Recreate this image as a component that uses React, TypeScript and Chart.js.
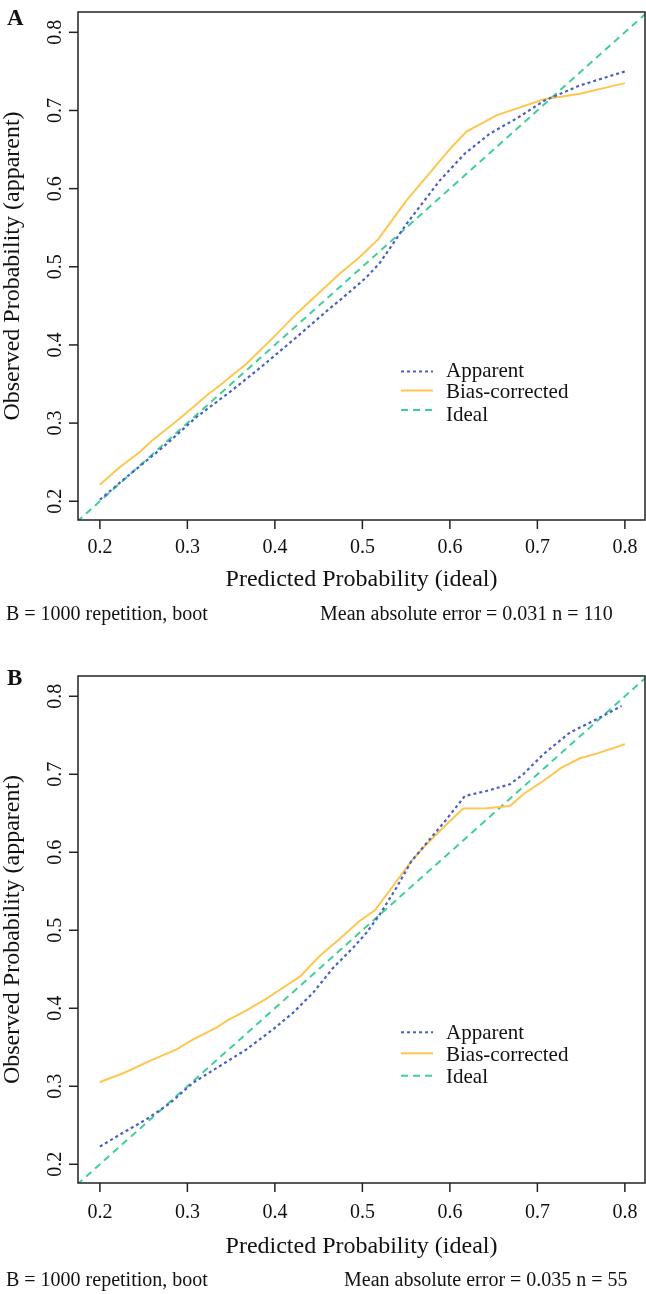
import React, { useEffect, useRef } from 'react';
import { Chart, registerables } from 'chart.js';

Chart.register(...registerables);

// ---------- data ----------
const TICKS = [0.2, 0.3, 0.4, 0.5, 0.6, 0.7, 0.8];
const TICK_LABELS = ['0.2', '0.3', '0.4', '0.5', '0.6', '0.7', '0.8'];
const X_MIN = 0.175;
const X_MAX = 0.823;
const Y_MIN = 0.176;
const Y_MAX = 0.826;

const IDEAL_X = [0, 1];
const IDEAL_Y = [0, 1];

const SERIES_NAMES = ['Apparent', 'Bias-corrected', 'Ideal'];

// Panel A
const A_APP_X = [0.2, 0.2305, 0.2724, 0.3105, 0.3486, 0.3867, 0.4248, 0.463, 0.474, 0.497, 0.505, 0.52, 0.5505, 0.5886, 0.6171, 0.6457, 0.676, 0.7086, 0.7486, 0.8];
const A_APP_Y = [0.202, 0.231, 0.2695, 0.3078, 0.3398, 0.374, 0.41, 0.447, 0.457, 0.479, 0.487, 0.505, 0.555, 0.6106, 0.6448, 0.6704, 0.6896, 0.713, 0.732, 0.75];
const A_BC_X = [0.2, 0.2229, 0.2457, 0.259, 0.2914, 0.3238, 0.337, 0.3676, 0.398, 0.4248, 0.4514, 0.4743, 0.4952, 0.518, 0.5505, 0.6019, 0.619, 0.6533, 0.7067, 0.7486, 0.8];
const A_BC_Y = [0.221, 0.2439, 0.263, 0.277, 0.3058, 0.3369, 0.348, 0.376, 0.4094, 0.44, 0.4678, 0.4913, 0.5105, 0.535, 0.585, 0.653, 0.673, 0.6938, 0.714, 0.7215, 0.735];

// Panel B
const B_APP_X = [0.2, 0.2267, 0.2533, 0.28, 0.3067, 0.3371, 0.3676, 0.398, 0.421, 0.4438, 0.4667, 0.4895, 0.5048, 0.52, 0.539, 0.5562, 0.5771, 0.5962, 0.6171, 0.6419, 0.6686, 0.6838, 0.7067, 0.7371, 0.7676, 0.7962];
const B_APP_Y = [0.2227, 0.2406, 0.2577, 0.2782, 0.3047, 0.326, 0.3474, 0.373, 0.3945, 0.4201, 0.452, 0.4778, 0.497, 0.5205, 0.5547, 0.5889, 0.6167, 0.6423, 0.6722, 0.6786, 0.6872, 0.7, 0.7256, 0.7535, 0.7705, 0.7876];
const B_BC_X = [0.2, 0.2267, 0.2571, 0.2876, 0.3067, 0.3333, 0.3448, 0.3676, 0.3905, 0.4095, 0.4286, 0.4514, 0.4743, 0.4971, 0.5143, 0.5352, 0.5562, 0.5733, 0.5924, 0.6152, 0.6419, 0.6686, 0.6838, 0.7067, 0.7276, 0.7486, 0.7676, 0.8];
const B_BC_Y = [0.3055, 0.3167, 0.3325, 0.3474, 0.36, 0.3753, 0.3838, 0.3974, 0.4124, 0.4266, 0.4406, 0.4673, 0.489, 0.5122, 0.5256, 0.5571, 0.5889, 0.6103, 0.6317, 0.656, 0.6564, 0.6594, 0.6744, 0.6914, 0.7086, 0.7205, 0.7265, 0.7385];

const X_TITLE = 'Predicted Probability (ideal)';
const Y_TITLE = 'Observed Probability (apparent)';
const FOOT_LEFT = 'B = 1000 repetition, boot';
const A_FOOT_RIGHT = 'Mean absolute error = 0.031 n = 110';
const B_FOOT_RIGHT = 'Mean absolute error = 0.035 n = 55';

// ---------- styles ----------
const BLUE = '#4B60C4';
const ORANGE = '#FFC64F';
const GREEN = '#3FCF99';
const DOT = [3, 3];
const DASH = [7, 5];
const FONT = '"Liberation Serif", "Times New Roman", serif';

const W = 646;
const H = 647;

function pts(xs: number[], ys: number[]) {
  return xs.map((x, i) => ({ x, y: ys[i] }));
}

type PanelCfg = {
  letter: string;
  letterY: number;
  appX: number[];
  appY: number[];
  bcX: number[];
  bcY: number[];
  footRight: string;
  footRightX: number;
  pad: { top: number; bottom: number };
  tickLabelOff: number;
  titleOff: number;
  footOff: number;
  legLineY: number[];
  legTextY: number[];
};

const framePlugin = {
  id: 'frame',
  afterDatasetsDraw(chart: any, _args: any, opts: any) {
    const cfg: PanelCfg = opts.cfg;
    const { ctx, chartArea: ca } = chart;
    const xs = chart.scales.x;
    const ys = chart.scales.y;
    ctx.save();
    ctx.setLineDash([]);
    ctx.strokeStyle = '#222';
    ctx.fillStyle = '#111';
    ctx.lineWidth = 1.5;
    ctx.strokeRect(ca.left, ca.top, ca.right - ca.left, ca.bottom - ca.top);

    // x ticks
    ctx.font = `20px ${FONT}`;
    ctx.textAlign = 'center';
    ctx.textBaseline = 'alphabetic';
    TICKS.forEach((t, i) => {
      const px = xs.getPixelForValue(t);
      ctx.beginPath();
      ctx.moveTo(px, ca.bottom);
      ctx.lineTo(px, ca.bottom + 9);
      ctx.stroke();
      ctx.fillText(TICK_LABELS[i], px, ca.bottom + cfg.tickLabelOff);
    });
    // y ticks (rotated labels)
    TICKS.forEach((t, i) => {
      const py = ys.getPixelForValue(t);
      ctx.beginPath();
      ctx.moveTo(ca.left - 9, py);
      ctx.lineTo(ca.left, py);
      ctx.stroke();
      ctx.save();
      ctx.translate(ca.left - 17, py);
      ctx.rotate(-Math.PI / 2);
      ctx.fillText(TICK_LABELS[i], 0, 0);
      ctx.restore();
    });

    // axis titles
    ctx.font = `24px ${FONT}`;
    ctx.fillText(X_TITLE, (ca.left + ca.right) / 2, ca.bottom + cfg.titleOff);
    ctx.save();
    ctx.translate(19, (ca.top + ca.bottom) / 2);
    ctx.rotate(-Math.PI / 2);
    ctx.fillText(Y_TITLE, 0, 0);
    ctx.restore();

    // footer
    ctx.font = `20px ${FONT}`;
    ctx.textAlign = 'left';
    ctx.fillText(FOOT_LEFT, 6, ca.bottom + cfg.footOff);
    ctx.fillText(cfg.footRight, cfg.footRightX, ca.bottom + cfg.footOff);

    // panel letter
    ctx.font = `bold 23px ${FONT}`;
    ctx.fillText(cfg.letter, 7, cfg.letterY);

    // legend
    const cols = [BLUE, ORANGE, GREEN];
    const dashes = [DOT, [], DASH];
    ctx.font = `21px ${FONT}`;
    SERIES_NAMES.forEach((name, i) => {
      ctx.save();
      ctx.strokeStyle = cols[i];
      ctx.lineWidth = 2;
      ctx.setLineDash(dashes[i]);
      ctx.beginPath();
      ctx.moveTo(401, cfg.legLineY[i]);
      ctx.lineTo(433, cfg.legLineY[i]);
      ctx.stroke();
      ctx.restore();
      ctx.fillStyle = '#111';
      ctx.fillText(name, 446, cfg.legTextY[i]);
    });
    ctx.restore();
  },
};

function Panel({ cfg, top }: { cfg: PanelCfg; top: number }) {
  const ref = useRef<HTMLCanvasElement | null>(null);
  useEffect(() => {
    if (!ref.current) return;
    const chart = new Chart(ref.current, {
      type: 'line',
      data: {
        datasets: [
          {
            label: SERIES_NAMES[0],
            data: pts(cfg.appX, cfg.appY),
            borderColor: BLUE,
            borderWidth: 2.2,
            borderDash: DOT,
            pointRadius: 0,
            tension: 0,
            fill: false,
            order: 1,
          },
          {
            label: SERIES_NAMES[1],
            data: pts(cfg.bcX, cfg.bcY),
            borderColor: ORANGE,
            borderWidth: 2,
            pointRadius: 0,
            tension: 0,
            fill: false,
            order: 2,
          },
          {
            label: SERIES_NAMES[2],
            data: pts(IDEAL_X, IDEAL_Y),
            borderColor: GREEN,
            borderWidth: 2,
            borderDash: DASH,
            pointRadius: 0,
            tension: 0,
            fill: false,
            order: 3,
          },
        ],
      },
      options: {
        animation: false,
        responsive: false,
        devicePixelRatio: 1,
        layout: { padding: { left: 78, right: 1, top: cfg.pad.top, bottom: cfg.pad.bottom } },
        scales: {
          x: { type: 'linear', min: X_MIN, max: X_MAX, display: false },
          y: { type: 'linear', min: Y_MIN, max: Y_MAX, display: false },
        },
        plugins: {
          legend: { display: false },
          tooltip: { enabled: false },
          frame: { cfg },
        } as any,
      },
      plugins: [framePlugin],
    });
    return () => chart.destroy();
  }, [cfg]);
  return (
    <canvas
      ref={ref}
      width={W}
      height={H}
      style={{ position: 'absolute', left: 0, top, width: W, height: H, display: 'block' }}
    />
  );
}

const PANEL_A: PanelCfg = {
  letter: 'A',
  letterY: 25,
  appX: A_APP_X,
  appY: A_APP_Y,
  bcX: A_BC_X,
  bcY: A_BC_Y,
  footRight: A_FOOT_RIGHT,
  footRightX: 320,
  pad: { top: 12, bottom: 127 },
  tickLabelOff: 33,
  titleOff: 66,
  footOff: 100,
  legLineY: [371.5, 390.5, 410],
  legTextY: [377, 398, 421],
};

const PANEL_B: PanelCfg = {
  letter: 'B',
  letterY: 38,
  appX: B_APP_X,
  appY: B_APP_Y,
  bcX: B_BC_X,
  bcY: B_BC_Y,
  footRight: B_FOOT_RIGHT,
  footRightX: 344,
  pad: { top: 29, bottom: 111 },
  tickLabelOff: 35,
  titleOff: 70,
  footOff: 103,
  legLineY: [385.3, 406.3, 428.7],
  legTextY: [392, 414, 436],
};

export default function App() {
  return (
    <div style={{ position: 'absolute', left: 0, top: 0, width: W, height: 1294, background: '#fff' }}>
      <Panel cfg={PANEL_A} top={0} />
      <Panel cfg={PANEL_B} top={647} />
    </div>
  );
}
